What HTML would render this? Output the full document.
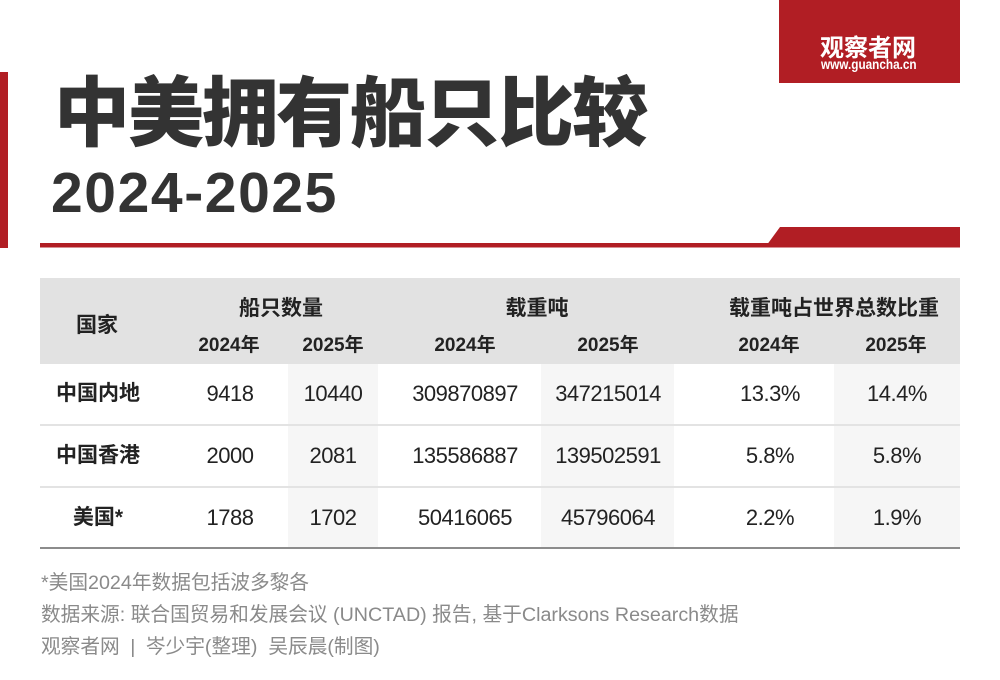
<!DOCTYPE html>
<html>
<head>
<meta charset="utf-8">
<style>
  html,body{margin:0;padding:0;}
  body{width:1000px;height:680px;position:relative;background:#fff;overflow:hidden;
    font-family:"Liberation Sans","Noto Sans CJK SC",sans-serif;color:#222;}
  .a{position:absolute;white-space:nowrap;}
  .c{position:absolute;width:240px;text-align:center;white-space:nowrap;}
  .hb{font-weight:bold;font-size:21px;color:#222;}
  .hy{font-weight:bold;font-size:19px;color:#222;}
  .num{font-size:22px;letter-spacing:-0.5px;color:#222;}
  .lab{font-weight:bold;font-size:21px;color:#222;}
  .foot{position:absolute;left:41px;font-size:19.7px;color:#8a8a8a;white-space:nowrap;height:32px;line-height:32px;}
</style>
</head>
<body>
<!-- left red bar -->
<div class="a" style="left:0;top:72px;width:8px;height:176px;background:#b11e24;"></div>

<!-- logo -->
<div class="a" style="left:779px;top:0;width:181px;height:83px;background:#b11e24;"></div>
<div class="a" style="left:820px;top:31px;font-family:'Noto Sans CJK SC',sans-serif;font-weight:bold;font-size:24px;line-height:30px;color:#fff;letter-spacing:0;">观察者网</div>
<div class="a" style="left:821px;top:56px;font-weight:bold;font-size:14px;line-height:16px;color:#fff;transform:scaleX(0.84);transform-origin:0 0;">www.guancha.cn</div>

<!-- title -->
<div class="a" style="left:54px;top:69px;height:76px;line-height:76px;font-family:'Noto Sans CJK SC',sans-serif;font-weight:900;font-size:76px;letter-spacing:-2px;color:#333;">中美拥有船只比较</div>
<div class="a" style="left:51px;top:163px;height:60px;line-height:60px;font-weight:bold;font-size:57px;letter-spacing:1.6px;color:#333;">2024-2025</div>

<!-- red rule -->
<svg class="a" style="left:0;top:0;" width="1000" height="260">
  <rect x="40" y="243" width="730" height="4.5" fill="#b11e24"/>
  <polygon points="765,247.5 780,227 960,227 960,247.5" fill="#b11e24"/>
</svg>

<!-- table backgrounds -->
<div class="a" style="left:40px;top:278px;width:920px;height:86px;background:#e2e2e2;"></div>
<div class="a" style="left:288px;top:364px;width:90px;height:184px;background:#f6f6f6;"></div>
<div class="a" style="left:541px;top:364px;width:133px;height:184px;background:#f6f6f6;"></div>
<div class="a" style="left:834px;top:364px;width:126px;height:184px;background:#f6f6f6;"></div>
<div class="a" style="left:40px;top:424px;width:920px;height:2px;background:#e3e3e3;"></div>
<div class="a" style="left:40px;top:486px;width:920px;height:2px;background:#e3e3e3;"></div>
<div class="a" style="left:40px;top:547px;width:920px;height:2px;background:#8c8c8c;"></div>

<!-- header text -->
<div class="c hb" style="left:-23px;top:310px;height:32px;line-height:32px;">国家</div>
<div class="c hb" style="left:161px;top:293px;height:32px;line-height:32px;">船只数量</div>
<div class="c hb" style="left:417px;top:293px;height:32px;line-height:32px;">载重吨</div>
<div class="c hb" style="left:714px;top:293px;height:32px;line-height:32px;">载重吨占世界总数比重</div>

<div class="c hy" style="left:109px;top:331px;height:30px;line-height:30px;">2024年</div>
<div class="c hy" style="left:213px;top:331px;height:30px;line-height:30px;">2025年</div>
<div class="c hy" style="left:345px;top:331px;height:30px;line-height:30px;">2024年</div>
<div class="c hy" style="left:488px;top:331px;height:30px;line-height:30px;">2025年</div>
<div class="c hy" style="left:649px;top:331px;height:30px;line-height:30px;">2024年</div>
<div class="c hy" style="left:776px;top:331px;height:30px;line-height:30px;">2025年</div>

<!-- row 1 -->
<div class="c lab" style="left:-22px;top:364px;height:60px;line-height:60px;">中国内地</div>
<div class="c num" style="left:110px;top:364px;height:60px;line-height:60px;">9418</div>
<div class="c num" style="left:213px;top:364px;height:60px;line-height:60px;">10440</div>
<div class="c num" style="left:345px;top:364px;height:60px;line-height:60px;">309870897</div>
<div class="c num" style="left:488px;top:364px;height:60px;line-height:60px;">347215014</div>
<div class="c num" style="left:650px;top:364px;height:60px;line-height:60px;">13.3%</div>
<div class="c num" style="left:777px;top:364px;height:60px;line-height:60px;">14.4%</div>

<!-- row 2 -->
<div class="c lab" style="left:-22px;top:426px;height:60px;line-height:60px;">中国香港</div>
<div class="c num" style="left:110px;top:426px;height:60px;line-height:60px;">2000</div>
<div class="c num" style="left:213px;top:426px;height:60px;line-height:60px;">2081</div>
<div class="c num" style="left:345px;top:426px;height:60px;line-height:60px;">135586887</div>
<div class="c num" style="left:488px;top:426px;height:60px;line-height:60px;">139502591</div>
<div class="c num" style="left:650px;top:426px;height:60px;line-height:60px;">5.8%</div>
<div class="c num" style="left:777px;top:426px;height:60px;line-height:60px;">5.8%</div>

<!-- row 3 -->
<div class="c lab" style="left:-22px;top:488px;height:59px;line-height:59px;">美国*</div>
<div class="c num" style="left:110px;top:488px;height:59px;line-height:59px;">1788</div>
<div class="c num" style="left:213px;top:488px;height:59px;line-height:59px;">1702</div>
<div class="c num" style="left:345px;top:488px;height:59px;line-height:59px;">50416065</div>
<div class="c num" style="left:488px;top:488px;height:59px;line-height:59px;">45796064</div>
<div class="c num" style="left:650px;top:488px;height:59px;line-height:59px;">2.2%</div>
<div class="c num" style="left:777px;top:488px;height:59px;line-height:59px;">1.9%</div>

<!-- footer -->
<div class="foot" style="top:567px;">*美国2024年数据包括波多黎各</div>
<div class="foot" style="top:599px;">数据来源: 联合国贸易和发展会议 (UNCTAD) 报告, 基于Clarksons Research数据</div>
<div class="foot" style="top:631px;">观察者网 <span style="margin:0 5px;">|</span> 岑少宇(整理)&nbsp;&nbsp;吴辰晨(制图)</div>
</body>
</html>
